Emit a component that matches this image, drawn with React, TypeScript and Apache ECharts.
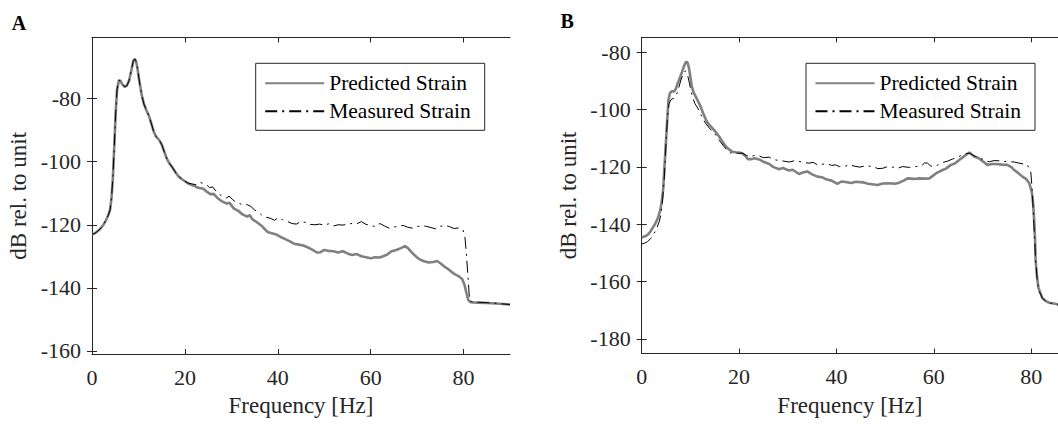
import React, { useEffect, useRef } from "react";
import * as echarts from "echarts";

const FONT = '"Liberation Serif", "Times New Roman", serif';
const INK = "#262626";

const SERIES_NAMES = ["Predicted Strain", "Measured Strain"];
const X_TICKS = [0, 20, 40, 60, 80];
const Y_TICKS_A = [-160, -140, -120, -100, -80];
const Y_TICKS_B = [-180, -160, -140, -120, -100, -80];

// ---------- Panel A ----------
const freqA_pred = [
  0, 0.5, 1, 1.5, 2, 2.5, 3, 3.5, 3.9, 4.2, 4.5, 4.8, 5.1, 5.4, 5.8, 6.1, 6.5, 7.0, 7.5, 8.0,
  8.5, 8.9, 9.2, 9.5, 9.8, 10.2, 10.7, 11.2, 11.8, 12.3, 12.8, 13.3, 13.8, 14.5, 15.0, 15.6,
  16.1, 16.7, 17.3, 17.9, 18.6, 19.3, 20, 20.7, 21.4, 22, 22.7, 23.4, 24, 24.7, 25.5, 26.2,
  27, 28, 29, 29.6, 30.5, 31.5, 32.5, 33.4, 34, 34.5, 35.5, 36.5, 37.7, 38.5, 39.5, 40.5,
  41.5, 42.5, 43.5, 44.5, 45.5, 46.5, 47.5, 48.4, 49.2, 50, 51, 52, 53, 54, 55, 56, 57, 58,
  59, 60, 61, 62, 62.8, 63.5, 64.5, 65.5, 66.5, 67.4, 68, 69, 70, 70.7, 71.5, 72.5, 73.5,
  74.3, 75, 76, 77, 78, 79, 79.7, 80.2, 80.6, 81.0, 81.5, 83, 85, 87, 90,
];
const dbA_pred = [
  -123.0, -122.8, -122.3, -121.7, -120.9, -119.9, -118.6, -117.0, -115.2, -111.5, -105.0,
  -95.0, -84.5, -77.0, -74.2, -74.3, -75.4, -76.2, -75.9, -74.2, -70.8, -68.0, -67.4, -68.2,
  -70.5, -74.5, -78.8, -81.8, -84.0, -85.6, -88.0, -90.5, -92.0, -93.2, -94.5, -97.0, -99.0,
  -100.6, -101.8, -103.2, -104.6, -105.5, -106.2, -106.9, -107.3, -107.6, -108.2, -108.4,
  -108.6, -109.5, -110.3, -110.2, -111.5, -112.6, -113.3, -113.0, -114.8, -115.6, -116.8,
  -117.4, -117.0, -118.2, -119.2, -120.3, -122.2, -122.6, -123.0, -123.8, -124.5, -125.2,
  -126.0, -126.3, -126.6, -127.2, -128.0, -128.8, -128.7, -128.0, -128.3, -128.4, -128.8,
  -128.4, -129.1, -129.6, -129.3, -130.0, -130.3, -130.6, -130.3, -130.4, -129.9, -129.5,
  -128.4, -128.0, -127.4, -126.8, -127.4, -129.0, -130.4, -131.1, -131.6, -132.0, -131.8,
  -131.5, -132.2, -133.4, -134.4, -135.6, -136.4, -137.2, -139.0, -141.5, -143.8, -144.6,
  -144.7, -144.8, -145.0, -145.3,
];
const freqA_meas = [
  0, 0.5, 1, 1.5, 2, 2.5, 3, 3.5, 3.9, 4.2, 4.5, 4.8, 5.1, 5.4, 5.8, 6.1, 6.5, 7.0, 7.5, 8.0,
  8.5, 8.9, 9.2, 9.5, 9.8, 10.2, 10.7, 11.2, 11.8, 12.3, 12.8, 13.3, 13.8, 14.5, 15.0, 15.6,
  16.1, 16.7, 17.3, 17.9, 18.6, 19.3, 20, 20.7, 21.4, 22, 22.7, 23.3, 24, 24.7, 25.3, 26,
  26.7, 27.5, 28.3, 29, 29.5, 30.2, 31, 31.8, 32.5, 33.4, 34.2, 35, 35.8, 36.6, 37.5, 38.5,
  39.3, 40, 41, 42, 43, 44, 45, 46, 47, 48, 49, 50, 51, 52, 53, 54, 55, 56, 57, 58, 59, 60,
  61, 62, 63, 64, 65, 66, 67, 68, 69, 70, 71, 72, 73, 74, 75, 76, 77, 78, 79, 79.9, 80.3,
  80.6, 80.9, 81.3, 82, 85, 90,
];
const dbA_meas = [
  -123.0, -122.8, -122.3, -121.7, -120.9, -119.9, -118.6, -117.0, -115.2, -111.5, -105.0,
  -95.0, -84.5, -77.0, -74.2, -74.3, -75.4, -76.2, -75.9, -74.2, -70.8, -68.0, -67.4, -68.2,
  -70.5, -74.5, -78.8, -81.8, -84.0, -85.6, -88.0, -90.5, -92.0, -93.2, -94.5, -97.0, -99.0,
  -100.6, -101.8, -103.2, -104.6, -105.5, -106.2, -106.8, -107.0, -107.2, -107.2, -106.6,
  -106.9, -107.4, -108.2, -108.0, -109.4, -110.4, -111.2, -111.5, -110.9, -111.9, -112.9,
  -113.3, -113.7, -113.6, -114.2, -115.3, -116.0, -117.0, -117.6, -118.0, -118.6, -117.8,
  -118.4, -118.9, -119.6, -119.8, -118.9, -119.3, -119.9, -120.0, -119.8, -120.1, -119.7,
  -120.4, -120.0, -120.1, -119.8, -119.6, -119.7, -119.0, -119.9, -120.2, -120.6, -119.6,
  -120.4, -121.1, -120.7, -120.5, -120.2, -120.8, -121.1, -120.6, -120.3, -120.5, -120.9,
  -121.3, -120.5, -120.2, -120.6, -121.2, -121.0, -121.7, -124.0, -129.0, -135.4, -144.0,
  -144.5, -144.7, -145.3,
];

// ---------- Panel B ----------
const freqB_pred = [
  0, 0.6, 1.2, 1.8, 2.2, 2.8, 3.3, 3.7, 4.0, 4.4, 4.8, 5.2, 5.5, 5.8, 6.2, 6.7, 7.0, 7.4, 7.9,
  8.3, 8.7, 9.1, 9.4, 9.7, 10.0, 10.3, 10.7, 11.1, 11.6, 12.1, 12.6, 13.2, 13.8, 14.5, 15.2,
  15.9, 16.6, 17.3, 18, 18.6, 19.3, 20, 20.7, 21.3, 21.8, 22.5, 23.2, 24.1, 25, 26.2, 27, 28.2,
  29, 30.3, 31, 32.3, 33.3, 34, 35, 36.1, 37, 37.8, 39, 40.2, 41, 41.9, 43, 44, 45.4, 46.5,
  48.5, 49.5, 50.9, 52, 52.9, 54, 54.6, 56, 57, 58, 59.1, 60.5, 61.8, 62.5, 63.5, 64.3, 65.2,
  66, 66.6, 67.3, 68.3, 69, 69.7, 71, 72, 72.7, 74, 75.1, 76, 76.5, 77.5, 78.2, 79, 79.6, 80.1,
  80.4, 80.6, 80.8, 80.9, 81.2, 81.5, 82.3, 83, 83.7, 85.5,
];
const dbB_pred = [
  -144.5, -144.3, -143.7, -142.6, -141.4, -139.8, -137.9, -135.8, -133.5, -128.0, -116.4,
  -104.8, -96.6, -94.2, -93.6, -93.7, -92.8, -90.8, -88.6, -86.8, -84.8, -83.3, -83.6, -85.4,
  -88.6, -92.0, -94.2, -95.5, -97.2, -99.0, -101.2, -103.6, -105.2, -106.5, -107.8, -109.4,
  -111.2, -112.9, -114.0, -114.7, -114.9, -115.0, -115.3, -116.2, -117.3, -117.3, -117.0,
  -117.4, -118.2, -119.0, -120.0, -120.8, -120.4, -121.3, -121.0, -122.5, -121.9, -121.6,
  -122.6, -123.4, -123.6, -124.3, -124.8, -125.9, -125.1, -125.3, -125.6, -125.2, -125.4,
  -125.9, -126.3, -125.8, -125.7, -125.9, -125.5, -124.6, -124.0, -124.2, -124.0, -124.1,
  -124.0, -122.2, -121.1, -120.6, -119.3, -118.8, -117.6, -116.6, -115.8, -115.0, -116.4,
  -116.8, -117.6, -119.3, -119.0, -119.0, -119.2, -119.3, -120.2, -121.1, -122.4, -123.4,
  -124.3, -125.7, -128.6, -133.0, -138.5, -146.0, -152.5, -158.5, -162.3, -165.8, -166.8,
  -167.4, -167.9,
];
const freqB_meas = [
  0, 0.6, 1.2, 1.9, 2.6, 3.1, 3.6, 4.0, 4.3, 4.6, 4.8, 5.05, 5.3, 5.6, 6.0, 6.4, 6.7, 7.0, 7.4,
  8.05, 8.5, 8.9, 9.2, 9.5, 9.8, 10.1, 10.4, 10.9, 11.5, 12.0, 12.5, 13.2, 13.9, 14.5, 15.2,
  16.0, 16.9, 17.6, 18.3, 19, 19.7, 20.7, 21.5, 22.4, 23.2, 24.1, 25, 26.2, 27, 28.2, 29.2,
  30.3, 31.3, 32.3, 33.3, 34.4, 35.2, 36.1, 37, 38.1, 39, 39.8, 40.6, 41.5, 42.7, 43.6, 44.8,
  46, 47.5, 48.5, 49.5, 50.5, 51.6, 52.5, 53.6, 55, 56.3, 57.5, 58.1, 58.7, 59.3, 59.8, 60.8,
  61.8, 62.8, 63.8, 64.8, 65.9, 66.6, 67.3, 68, 68.6, 69.3, 70, 70.7, 71.4, 72.4, 73.4, 74.4,
  75.4, 76.5, 77.5, 78.4, 79.2, 79.9, 80.2, 80.4, 80.7, 80.9, 81.2, 81.5, 82.3, 83, 83.7, 85.5,
];
const dbB_meas = [
  -146.9, -146.6, -146.1, -144.9, -143.1, -141.4, -139.1, -136.2, -131.5, -125.0, -118.7,
  -110.0, -102.5, -98.0, -96.6, -96.2, -96.0, -95.2, -93.7, -89.7, -87.7, -86.5, -86.9, -88.5,
  -90.8, -93.4, -95.5, -97.8, -99.5, -101.2, -103.0, -105.0, -106.5, -107.6, -108.9, -110.9,
  -112.9, -114.4, -115.2, -115.0, -115.3, -115.2, -116.0, -116.4, -116.0, -116.2, -116.8,
  -116.6, -117.4, -117.8, -118.0, -118.3, -117.9, -118.1, -118.5, -118.7, -118.4, -119.3,
  -119.1, -118.9, -119.5, -119.3, -119.9, -119.9, -119.3, -119.7, -120.1, -119.6, -119.9,
  -120.6, -120.5, -119.9, -120.1, -120.5, -119.9, -120.2, -119.9, -119.6, -118.6, -118.7,
  -119.6, -119.9, -119.4, -118.5, -118.0, -117.3, -116.6, -115.8, -115.4, -115.2, -115.9,
  -116.4, -116.9, -117.3, -118.0, -118.2, -117.8, -117.9, -118.1, -118.2, -118.3, -118.7,
  -119.0, -119.3, -121.6, -128.0, -135.0, -145.0, -152.5, -158.8, -162.9, -165.8, -166.9,
  -167.4, -168.2,
];

const zip = (f: number[], v: number[]) => f.map((x, i) => [x, v[i]]);

function mainX(gridIndex: number, max: number) {
  return {
    type: "value",
    gridIndex,
    min: 0,
    max,
    position: "bottom",
    name: "Frequency [Hz]",
    nameLocation: "middle",
    nameGap: 40,
    nameTextStyle: { fontFamily: FONT, fontSize: 23, color: INK },
    axisLine: { show: true, lineStyle: { color: INK, width: 1 } },
    axisTick: { show: true, inside: true, length: 5, customValues: X_TICKS, lineStyle: { color: INK } },
    axisLabel: { customValues: X_TICKS, fontFamily: FONT, fontSize: 22, color: INK, margin: 12 },
    splitLine: { show: false },
  };
}
function topX(gridIndex: number, max: number) {
  return {
    type: "value",
    gridIndex,
    min: 0,
    max,
    position: "top",
    axisLine: { show: true, lineStyle: { color: INK, width: 1 } },
    axisTick: { show: true, inside: true, length: 5, customValues: X_TICKS, lineStyle: { color: INK } },
    axisLabel: { show: false },
    splitLine: { show: false },
  };
}
function mainY(gridIndex: number, min: number, max: number, ticks: number[]) {
  return {
    type: "value",
    gridIndex,
    min,
    max,
    position: "left",
    name: "dB rel. to unit",
    nameLocation: "middle",
    nameGap: 62,
    nameTextStyle: { fontFamily: FONT, fontSize: 23, color: INK },
    axisLine: { show: true, lineStyle: { color: INK, width: 1 } },
    axisTick: { show: true, inside: true, length: 5, customValues: ticks, lineStyle: { color: INK } },
    axisLabel: { customValues: ticks, fontFamily: FONT, fontSize: 22, color: INK, margin: 11 },
    splitLine: { show: false },
  };
}
function rightY(gridIndex: number, min: number, max: number, ticks: number[]) {
  return {
    type: "value",
    gridIndex,
    min,
    max,
    position: "right",
    axisLine: { show: true, lineStyle: { color: INK, width: 1 } },
    axisTick: { show: true, inside: true, length: 5, customValues: ticks, lineStyle: { color: INK } },
    axisLabel: { show: false },
    splitLine: { show: false },
  };
}

function legendAt(left: number) {
  return {
    data: SERIES_NAMES,
    orient: "vertical",
    left,
    top: 63.3,
    padding: [9, 14, 8, 8.5],
    itemWidth: 59,
    itemHeight: 14,
    itemGap: 6,
    backgroundColor: "#fff",
    borderColor: INK,
    borderWidth: 1,
    selectedMode: false,
    itemStyle: { opacity: 0, borderWidth: 0 },
    textStyle: { fontFamily: FONT, fontSize: 21.5, color: "#000" },
  };
}

const predStyle = { color: "#808080", width: 2.6 };
const measStyle = { color: "#000", width: 1, type: [12, 5, 2, 5] };

export default function App() {
  const ref = useRef<HTMLDivElement>(null);
  useEffect(() => {
    if (!ref.current) return;
    const chart = echarts.init(ref.current, undefined, { renderer: "svg" });
    const line = (name: string, data: number[][], axis: number, style: any, z: number) => ({
      type: "line",
      name,
      data,
      xAxisIndex: axis,
      yAxisIndex: axis,
      symbol: "none",
      showSymbol: false,
      lineStyle: style,
      itemStyle: { color: style.color },
      z,
      silent: true,
    });
    chart.setOption({
      animation: false,
      backgroundColor: "#fff",
      grid: [
        { left: 92, top: 37.5, width: 418, height: 316.5 },
        { left: 641.7, top: 37.3, width: 417.2, height: 316.2 },
      ],
      xAxis: [mainX(0, 90), mainX(1, 85.5), topX(0, 90), topX(1, 85.5)],
      yAxis: [
        mainY(0, -161, -60.6, Y_TICKS_A),
        mainY(1, -185.1, -74.8, Y_TICKS_B),
        rightY(0, -161, -60.6, Y_TICKS_A),
        rightY(1, -185.1, -74.8, Y_TICKS_B),
      ],
      legend: [legendAt(255.7), legendAt(806)],
      graphic: [
        { type: "text", x: 11.7, y: 22.5, style: { text: "A", font: `bold 20px ${FONT}`, fill: "#000", verticalAlign: "middle" } },
        { type: "text", x: 560.5, y: 21, style: { text: "B", font: `bold 20px ${FONT}`, fill: "#000", verticalAlign: "middle" } },
      ],
      series: [
        line(SERIES_NAMES[0], zip(freqA_pred, dbA_pred), 0, predStyle, 2),
        line(SERIES_NAMES[1], zip(freqA_meas, dbA_meas), 0, measStyle, 3),
        line(SERIES_NAMES[0], zip(freqB_pred, dbB_pred), 1, predStyle, 2),
        line(SERIES_NAMES[1], zip(freqB_meas, dbB_meas), 1, measStyle, 3),
      ],
    });
    return () => chart.dispose();
  }, []);
  return (
    <div
      ref={ref}
      style={{ position: "fixed", left: 0, top: 0, width: 1058, height: 424, background: "#fff" }}
    />
  );
}
